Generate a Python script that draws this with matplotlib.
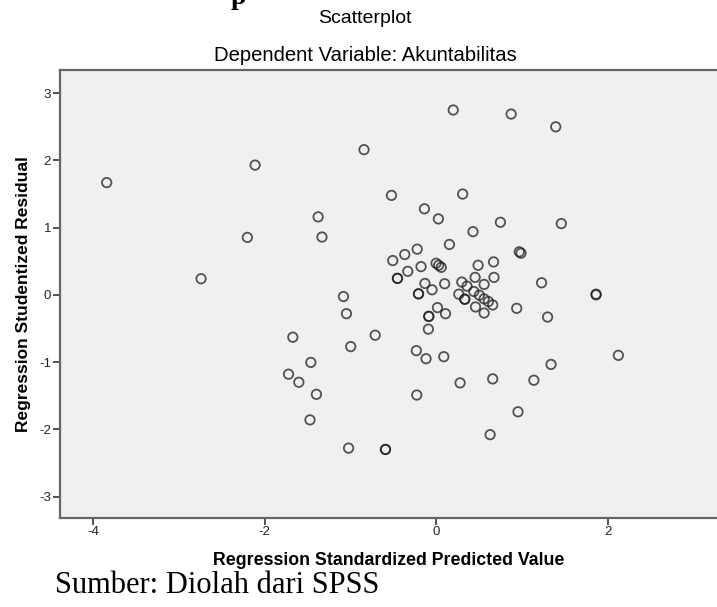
import numpy as np
import matplotlib
matplotlib.use('Agg')
import matplotlib.pyplot as plt

# regression standardized predicted value (x) and studentized residual (y)
pred = [-3.84, -2.74, -2.20, -2.11, -1.72, -1.67, -1.60, -1.47, -1.46, -1.395,
        -1.375, -1.33, -1.08, -1.045, -1.02, -0.995, -0.84, -0.71, -0.59, -0.59,
        -0.52, -0.505, -0.45, -0.45, -0.365, -0.33, -0.23, -0.225, -0.22, -0.205,
        -0.205, -0.175, -0.13, -0.117, -0.136, -0.09, -0.085, -0.085, -0.047, 0.0,
        0.016, 0.027, 0.03, 0.06, 0.09, 0.10, 0.11, 0.155, 0.20, 0.265, 0.28,
        0.30, 0.31, 0.335, 0.335, 0.36, 0.43, 0.44, 0.455, 0.46, 0.49, 0.505,
        0.56, 0.56, 0.56, 0.61, 0.63, 0.66, 0.66, 0.67, 0.675, 0.75, 0.875,
        0.94, 0.955, 0.97, 0.99, 1.14, 1.23, 1.30, 1.34, 1.395, 1.46, 1.865,
        1.865, 2.125]
resid = [1.67, 0.24, 0.855, 1.93, -1.18, -0.63, -1.30, -1.86, -1.005, -1.48,
         1.16, 0.86, -0.025, -0.28, -2.28, -0.77, 2.16, -0.60, -2.30, -2.30,
         1.48, 0.51, 0.245, 0.245, 0.60, 0.35, -0.83, -1.49, 0.68, 0.015,
         0.015, 0.42, 0.17, -0.95, 1.28, -0.51, -0.32, -0.32, 0.075, 0.47,
         -0.19, 1.13, 0.44, 0.41, -0.92, 0.165, -0.28, 0.75, 2.75, 0.01, -1.31,
         0.19, 1.50, -0.065, -0.065, 0.13, 0.94, 0.05, 0.26, -0.18, 0.44, -0.005,
         0.155, -0.06, -0.27, -0.10, -2.08, -0.15, -1.25, 0.49, 0.26, 1.08, 2.69,
         -0.20, -1.74, 0.64, 0.62, -1.27, 0.18, -0.33, -1.035, 2.50, 1.06, 0.01,
         0.0, -0.90]

xticks = [-4, -2, 0, 2]
yticks = [-3, -2, -1, 0, 1, 2, 3]

plt.rcParams['font.family'] = ['Liberation Sans', 'DejaVu Sans']
plt.rcParams['axes.unicode_minus'] = False

fig = plt.figure(figsize=(7.17, 6.07), dpi=100)
ax = fig.add_axes([0.083, 0.1466, 0.917, 0.7375])
ax.set_facecolor('#f0f0f0')

ax.scatter(pred, resid, s=46, facecolors='none', edgecolors='#1e1e1e',
           linewidths=1.3, alpha=0.75)

ax.set_xlim(-4.39, 3.275)
ax.set_ylim(-3.32, 3.34)
ax.set_xticks(xticks)
ax.set_yticks(yticks)
ax.tick_params(direction='out', length=5, width=1.3, color='#444444',
               labelsize=9.5, labelcolor='#222222', pad=1)

for side in ['left', 'bottom', 'top']:
    ax.spines[side].set_color('#666666')
    ax.spines[side].set_linewidth(1.6)
ax.spines['right'].set_visible(False)

ax.set_xlabel('Regression Standardized Predicted Value', fontsize=12.8,
              fontweight='bold', labelpad=10)
ax.set_ylabel('Regression Studentized Residual', fontsize=12.5,
              fontweight='bold', labelpad=6)

fig.text(0.509, 0.969, 'Scatterplot', ha='center', va='center', fontsize=14)
fig.text(0.509, 0.908, 'Dependent Variable: Akuntabilitas', ha='center',
         va='center', fontsize=14.6)
fig.text(0.332, 1.004, 'p', ha='center', va='center', fontsize=20,
         fontweight='bold', family='Liberation Serif')
fig.text(0.077, 0.036, 'Sumber: Diolah dari SPSS', ha='left', va='center',
         fontsize=22, family='Liberation Serif')

plt.savefig('out.png', dpi=100)
